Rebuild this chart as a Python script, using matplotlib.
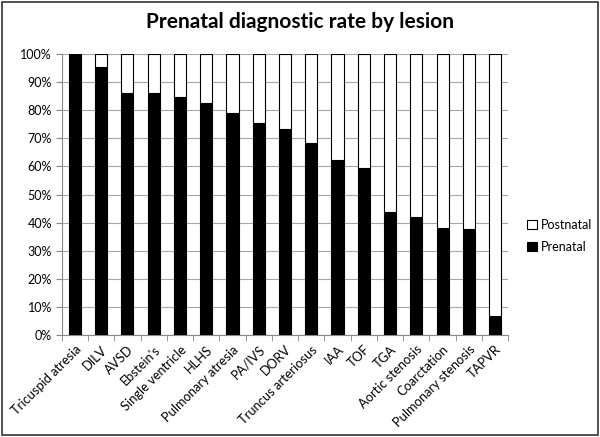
import numpy as np
import matplotlib.pyplot as plt
from matplotlib.patches import Rectangle

plt.rcParams['font.family'] = ['Lato', 'DejaVu Sans']

lesions = ['Tricuspid atresia', 'DILV', 'AVSD', "Ebstein's", 'Single ventricle', 'HLHS',
           'Pulmonary atresia', 'PA/IVS', 'DORV', 'Truncus arteriosus', 'IAA', 'TOF', 'TGA',
           'Aortic stenosis', 'Coarctation', 'Pulmonary stenosis', 'TAPVR']
prenatal = np.array([100, 95.3, 86.2, 86.2, 84.6, 82.4, 78.9, 75.3, 73.4, 68.2, 62.3,
                     59.5, 43.7, 41.9, 38.0, 37.7, 6.9])
postnatal = 100 - prenatal

fig = plt.figure(figsize=(6, 4.37), dpi=100)
ax = fig.add_axes((0.103, 0.2334, 0.744, 0.643))

x = np.arange(len(lesions))
ax.bar(x, prenatal, 0.46, color='black', edgecolor='black', linewidth=0.8, label='Prenatal', zorder=3)
ax.bar(x, postnatal, 0.46, bottom=prenatal, color='white', edgecolor='black', linewidth=0.8,
       label='Postnatal', zorder=3)

ax.set_xlim(-0.5, len(lesions) - 0.5)
ax.set_ylim(0, 100)
ax.set_yticks(np.arange(0, 101, 10))
ax.set_yticklabels(['%d%%' % v for v in range(0, 101, 10)], fontsize=9)
ax.grid(axis='y', color='#a6a6a6', linewidth=0.8, zorder=0)

ax.set_xticks(x)
ax.set_xticklabels(lesions, rotation=45, ha='right', rotation_mode='anchor', fontsize=9.3)
ax.tick_params(axis='x', which='major', length=0, pad=6)
ax.set_xticks(np.arange(-0.5, len(lesions), 1), minor=True)
ax.tick_params(axis='x', which='minor', length=4, color='#888888')
ax.tick_params(axis='y', length=4, color='#888888', pad=3)

for s in ['top', 'right']:
    ax.spines[s].set_visible(False)
for s in ['left', 'bottom']:
    ax.spines[s].set_color('#888888')

fig.suptitle('Prenatal diagnostic rate by lesion', fontsize=15, fontweight='bold', y=0.972)

h, l = ax.get_legend_handles_labels()
fig.legend(h[::-1], l[::-1], loc='center left', bbox_to_anchor=(0.86, 0.46), frameon=False,
           fontsize=9, handlelength=0.8, handleheight=0.8, handletextpad=0.3, labelspacing=0.8)

fig.patches.append(Rectangle((0.003, 0.004), 0.994, 0.992, transform=fig.transFigure,
                             fill=False, edgecolor='#333333', linewidth=1.2))

fig.savefig('out.png', dpi=100)
